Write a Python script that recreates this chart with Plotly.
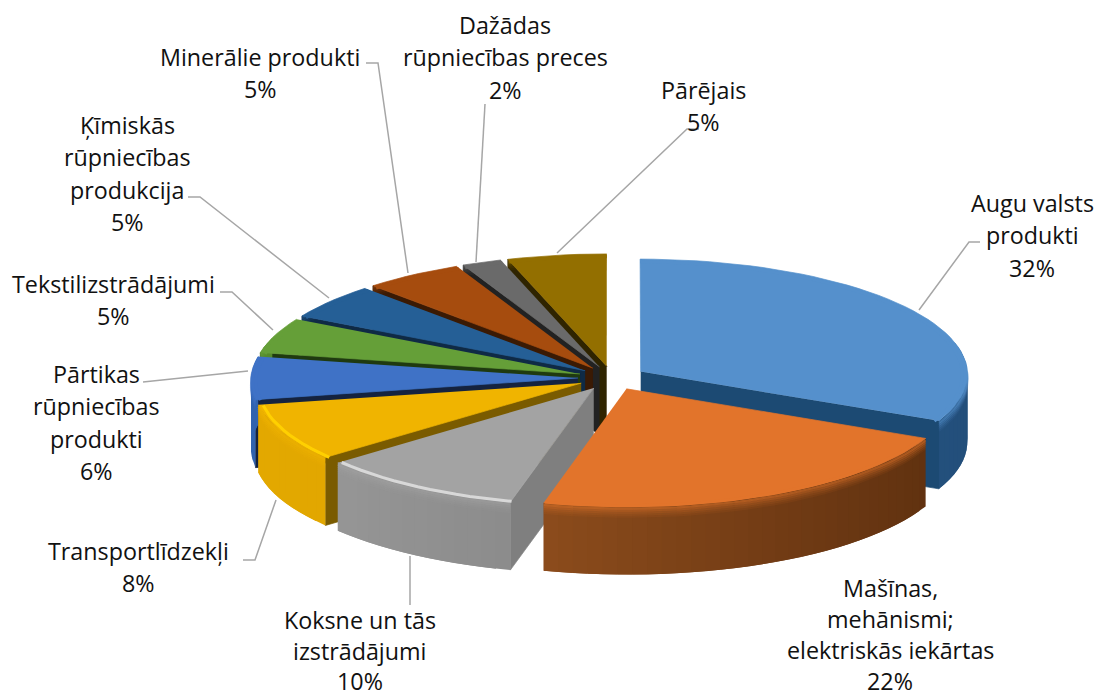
import math
import plotly.graph_objects as go

# ---- data ----
categories = ["Augu valsts produkti", "Mašīnas, mehānismi; elektriskās iekārtas", "Koksne un tās izstrādājumi",
              "Transportlīdzekļi", "Pārtikas rūpniecības produkti", "Tekstilizstrādājumi",
              "Ķīmiskās rūpniecības produkcija", "Minerālie produkti", "Dažādas rūpniecības preces", "Pārējais"]
values = [32, 22, 10, 8, 6, 5, 5, 5, 2, 5]

# ---- styles ----
top_col = ["#5590CC", "#E2742B", "#A3A3A3", "#F0B400", "#3F72C6", "#659F38", "#255F96", "#A64C0E", "#6A6A6A", "#936F00"]
wall_a = ["#2B6096", "#A85C24", "#9A9A9A", "#E3A800", "#3163AE", "#548A2C", "#1E4F7C", "#84390A", "#505050", "#775A00"]
wall_b = ["#234F7B", "#5E300F", "#757575", "#D9A200", "#2A559A", "#4C7C28", "#1B476F", "#743209", "#484848", "#6B5100"]
cut_col = ["#1C4A73", "#5E300F", "#7F7F7F", "#7A5B00", "#15233F", "#1F3A10", "#0F2A45", "#3A1A04", "#222222", "#2F2400"]
bevel_col = ["#5590CC", "#E2742B", "#D8D8D8", "#FFD000", "#3F72C6", "#659F38", "#255F96", "#A64C0E", "#6A6A6A", "#936F00"]
draw_order = [9, 8, 7, 6, 5, 4, 3, 0, 2, 1]

CX, CY, RX, RY, EXPL, DEPTH, K = 612, 378, 327, 115, 34 / 327, 68, 0.02

def project(u, v, z=0.0):
    s = 1 / (1 + K * v)
    return CX + RX * u * s, CY - RY * v * s + z

def mix(a, b, t):
    ca = [int(a[i:i + 2], 16) for i in (1, 3, 5)]
    cb = [int(b[i:i + 2], 16) for i in (1, 3, 5)]
    return "#%02x%02x%02x" % tuple(round(x + (y - x) * t) for x, y in zip(ca, cb))

fig = go.Figure()

def poly(xs, ys, color, width=0.7):
    fig.add_trace(go.Scatter(x=xs, y=ys, mode="lines", fill="toself", fillcolor=color,
                             line=dict(color=color, width=width), hoverinfo="skip", showlegend=False))

total = sum(values)
starts = [sum(values[:i]) / total * 2 * math.pi for i in range(len(values))]
ends = [sum(values[:i + 1]) / total * 2 * math.pi for i in range(len(values))]

for i in draw_order:
    a0, a1 = starts[i], ends[i]
    mid = (a0 + a1) / 2
    ou, ov = EXPL * math.sin(mid), EXPL * math.cos(mid)
    n = max(6, int((a1 - a0) / math.radians(2.5)))
    angs = [a0 + (a1 - a0) * j / n for j in range(n + 1)]
    arc = [(ou + math.sin(t), ov + math.cos(t)) for t in angs]
    apex = (ou, ov)
    # radial cut faces that look towards the viewer
    for edge, vis in ((a0, math.sin(a0) < 0), (a1, math.sin(a1) > 0)):
        if vis:
            tip = (ou + math.sin(edge), ov + math.cos(edge))
            p = [project(*apex), project(*tip), project(*tip, DEPTH), project(*apex, DEPTH)]
            poly([q[0] for q in p], [q[1] for q in p], cut_col[i])
    # rim wall: overlapping strips so that no seams show
    for j in range(n):
        if math.cos(angs[j]) > 0.25 and math.cos(angs[j + 1]) > 0.25:
            continue
        e = min(j + 2, n)
        p = [project(*arc[j]), project(*arc[e]), project(*arc[e], DEPTH), project(*arc[j], DEPTH)]
        t = math.sin(angs[j]) * 0.5 + 0.5
        poly([q[0] for q in p], [q[1] for q in p], mix(wall_a[i], wall_b[i], t), width=0)
    # soft bevel from top face into the wall
    for z, alpha in ((10, 0.08), (8, 0.16), (6, 0.26), (4, 0.38), (2, 0.52)):
        rim = [project(*q, z) for q in arc]
        rgb = [int(top_col[i][c:c + 2], 16) for c in (1, 3, 5)]
        fig.add_trace(go.Scatter(x=[q[0] for q in rim], y=[q[1] for q in rim], mode="lines",
                                 line=dict(color="rgba(%d,%d,%d,%.2f)" % (*rgb, alpha), width=2.2),
                                 hoverinfo="skip", showlegend=False))
    # top face
    pts = [project(*apex)] + [project(*q) for q in arc]
    poly([q[0] for q in pts], [q[1] for q in pts], top_col[i])
    # rim highlight
    rim = [project(ou + 0.985 * math.sin(t), ov + 0.985 * math.cos(t), 1) for t in angs]
    fig.add_trace(go.Scatter(x=[q[0] for q in rim], y=[q[1] for q in rim], mode="lines",
                             line=dict(color=bevel_col[i], width=3), hoverinfo="skip", showlegend=False))

# ---- labels: (centre x, first line y, line step, lines) ----
label_lines = [
    (1032, 203, 32.4, ["Augu valsts", "produkti", "32%"]),
    (890, 588, 31.1, ["Mašīnas,", "mehānismi;", "elektriskās iekārtas", "22%"]),
    (360, 620, 30.7, ["Koksne un tās", "izstrādājumi", "10%"]),
    (138, 551, 32.4, ["Transportlīdzekļi", "8%"]),
    (96, 374, 32.4, ["Pārtikas", "rūpniecības", "produkti", "6%"]),
    (113, 284, 32.4, ["Tekstilizstrādājumi", "5%"]),
    (127, 125, 32.4, ["Ķīmiskās", "rūpniecības", "produkcija", "5%"]),
    (260, 57, 32.4, ["Minerālie produkti", "5%"]),
    (505, 25, 32.4, ["Dažādas", "rūpniecības preces", "2%"]),
    (703, 90, 32.4, ["Pārējais", "5%"]),
]
annotations = []
for x, y0, step, lines in label_lines:
    for k, text in enumerate(lines):
        annotations.append(dict(x=x, y=y0 + k * step, text=text, showarrow=False, xanchor="center",
                                yanchor="middle", font=dict(family="Open Sans", size=23.3, color="#111111")))

leaders = [
    [(919, 310), (969, 242), (980, 242)],
    [(557, 253), (687, 129), (699, 129)],
    [(485, 104), (476, 262)],
    [(366, 63), (378, 63), (408, 273)],
    [(188, 197), (200, 197), (329, 298)],
    [(220, 292), (232, 292), (273, 330)],
    [(143, 382), (248, 371)],
    [(243, 560), (255, 560), (276, 500)],
    [(410, 556), (410, 605)],
]
for ld in leaders:
    fig.add_trace(go.Scatter(x=[p[0] for p in ld], y=[p[1] for p in ld], mode="lines",
                             line=dict(color="#A6A6A6", width=1.5), hoverinfo="skip", showlegend=False))

fig.update_layout(width=1095, height=698, margin=dict(l=0, r=0, t=0, b=0), paper_bgcolor="white",
                  plot_bgcolor="white", showlegend=False, annotations=annotations,
                  xaxis=dict(range=[0, 1095], visible=False, fixedrange=True),
                  yaxis=dict(range=[698, 0], visible=False, fixedrange=True))
fig.write_html("out.html", config={"displayModeBar": False},
               post_script="document.body.style.margin='0';document.body.style.overflow='hidden';")
